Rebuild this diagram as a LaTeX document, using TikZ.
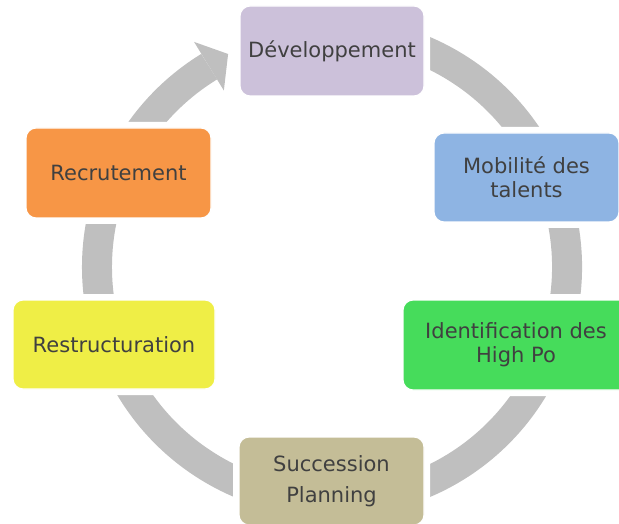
\documentclass[tikz,border=0pt]{standalone}
\usepackage{fontspec}
\setmainfont{DejaVu Sans}
\definecolor{ringgray}{HTML}{BFBFBF}
\definecolor{txtgray}{HTML}{404040}
\definecolor{cdev}{HTML}{CCC1DA}
\definecolor{cmob}{HTML}{8EB4E3}
\definecolor{cident}{HTML}{46DC5B}
\definecolor{csucc}{HTML}{C4BD97}
\definecolor{crestr}{HTML}{EFEE46}
\definecolor{crecr}{HTML}{F79646}
\begin{document}
\begin{tikzpicture}[x=1pt,y=1pt,
  box/.style={rectangle, rounded corners=10pt, inner sep=2pt, outer sep=0pt,
    preaction={draw=white, line width=12pt},
    draw=white, line width=1.2pt, align=center, text=txtgray,
    font=\fontsize{21}{24}\selectfont},
  ring/.style={draw=ringgray, line width=30pt}]
\useasboundingbox (0,-524) rectangle (619,0);
\clip (0,-524) rectangle (619,0);
% cycle ring
\coordinate (c) at (332,-267);
\draw[ring] ([shift={(c)}]110:235) arc[start angle=110, end angle=-238.5, radius=235];
\fill[ringgray] ([shift={(c)}]121.5:264) -- ([shift={(c)}]116:237) -- ([shift={(c)}]121.5:207) -- ([shift={(c)}]121.5:219) -- ([shift={(c)}]121.5:251) -- cycle;
% boxes
\node[box, fill=cdev, minimum width=184pt, minimum height=90pt] (dev) at (332,-51) {Développement};
\node[box, fill=cmob, minimum width=185pt, minimum height=89pt] (mob) at (526.5,-177.5) {Mobilité des\\talents};
\node[box, fill=cident, minimum width=226pt, minimum height=90pt] (ident) at (516,-345) {Identification des\\High Po};
\node[box, fill=csucc, minimum width=185pt, minimum height=88pt, font=\fontsize{21}{31}\selectfont] (succ) at (331.5,-481) {Succession\\Planning};
\node[box, fill=crestr, minimum width=202pt, minimum height=89pt] (restr) at (114,-344.5) {Restructuration};
\node[box, fill=crecr, minimum width=185pt, minimum height=90pt] (recr) at (118.5,-173) {Recrutement};
\end{tikzpicture}
\end{document}
